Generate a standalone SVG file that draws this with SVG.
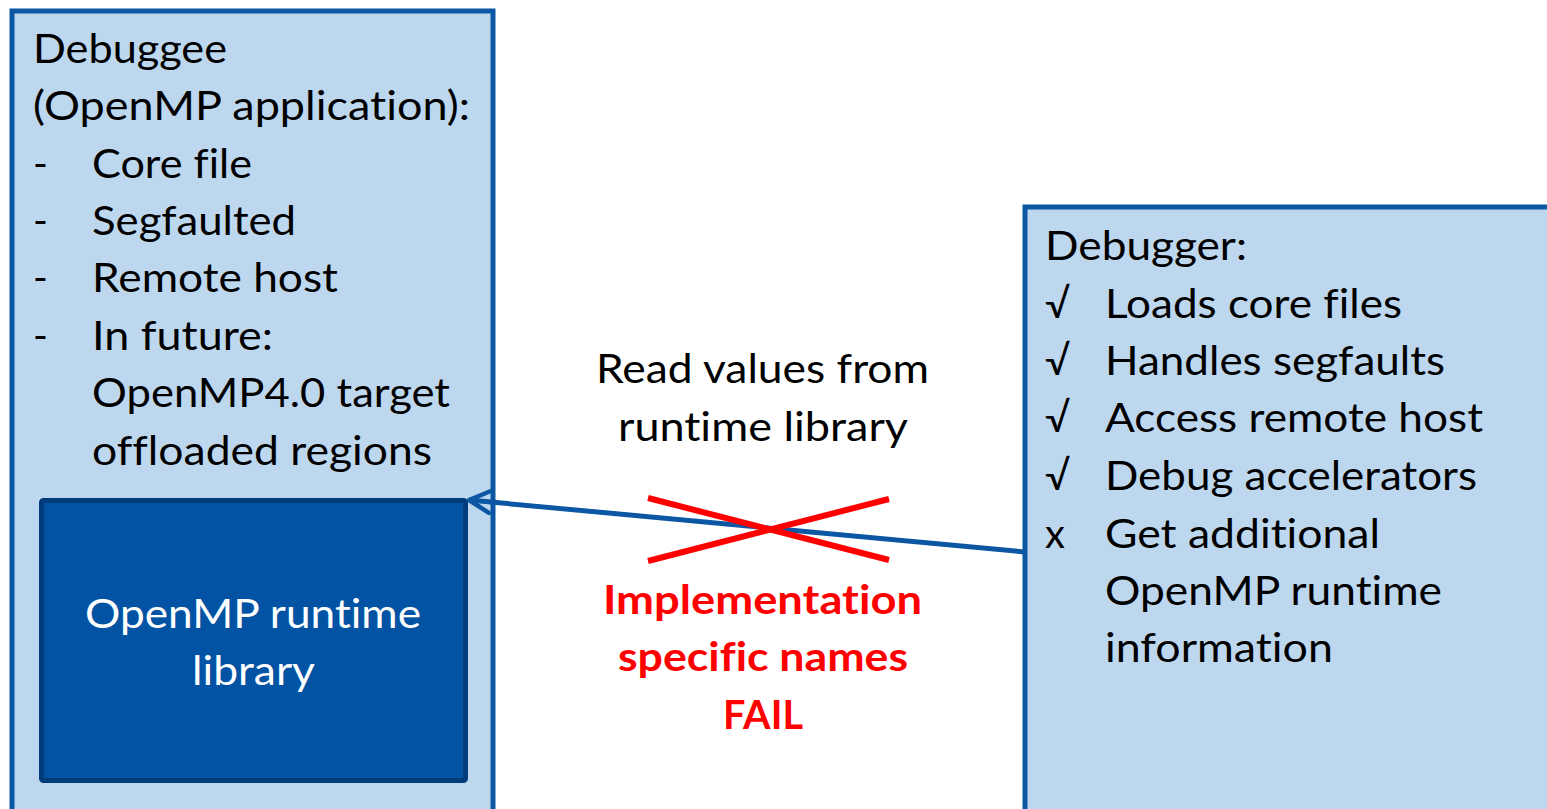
<svg xmlns="http://www.w3.org/2000/svg" width="1547" height="809" viewBox="0 0 1547 809">
  <style>
    .box { fill: #bdd7ee; stroke: #0b57a4; stroke-width: 5; }
    .inner { fill: #0353a4; stroke: #003b7a; stroke-width: 5; }
    text { font-family: Lato, "Open Sans", "DejaVu Sans", sans-serif; font-size: 40px; font-variant-ligatures: none; }
    .dark { fill: #000000; }
    .white { fill: #ffffff; }
    .red { fill: #ff0000; font-weight: bold; }
    .conn { stroke: #0b57a4; stroke-width: 5; fill: none; }
    .cross { stroke: #ff0000; stroke-width: 6; fill: none; }
  </style>
  <defs>
    <marker id="open-arrow" markerUnits="userSpaceOnUse" orient="auto" refX="0" refY="0" viewBox="-24 -14 28 28" markerWidth="28" markerHeight="28" overflow="visible">
      <path d="M-21,-11 L0,0 L-21,11" fill="none" stroke="#0b57a4" stroke-width="4.5" stroke-linecap="round" stroke-linejoin="round"/>
    </marker>
  </defs>
  <rect width="1547" height="809" fill="#ffffff"/>

  <g id="debuggee">
    <rect class="box" x="12" y="11" width="481" height="805"/>
    <text class="dark" x="33" y="63" textLength="194" lengthAdjust="spacingAndGlyphs">Debuggee</text>
    <text class="dark" x="33" y="120" textLength="437" lengthAdjust="spacingAndGlyphs">(OpenMP application):</text>
    <text class="dark" x="33" y="178">-</text>
    <text class="dark" x="92" y="178" textLength="160" lengthAdjust="spacingAndGlyphs">Core file</text>
    <text class="dark" x="33" y="235">-</text>
    <text class="dark" x="92" y="235" textLength="204" lengthAdjust="spacingAndGlyphs">Segfaulted</text>
    <text class="dark" x="33" y="292">-</text>
    <text class="dark" x="92" y="292" textLength="246" lengthAdjust="spacingAndGlyphs">Remote host</text>
    <text class="dark" x="33" y="350">-</text>
    <text class="dark" x="92" y="350" textLength="181" lengthAdjust="spacingAndGlyphs">In future:</text>
    <text class="dark" x="92" y="407" textLength="358" lengthAdjust="spacingAndGlyphs">OpenMP4.0 target</text>
    <text class="dark" x="92" y="465" textLength="340" lengthAdjust="spacingAndGlyphs">offloaded regions</text>
  </g>

  <g id="runtime-library">
    <rect class="inner" x="41.5" y="500.5" width="424" height="280" rx="2"/>
    <text class="white" x="85" y="628" textLength="336" lengthAdjust="spacingAndGlyphs">OpenMP runtime</text>
    <text class="white" x="192" y="685" textLength="123" lengthAdjust="spacingAndGlyphs">library</text>
  </g>

  <g id="debugger">
    <rect class="box" x="1025" y="207" width="540" height="610"/>
    <text class="dark" x="1045" y="260" textLength="202" lengthAdjust="spacingAndGlyphs">Debugger:</text>
    <text class="dark" x="1045" y="318">√</text>
    <text class="dark" x="1105" y="318" textLength="297" lengthAdjust="spacingAndGlyphs">Loads core files</text>
    <text class="dark" x="1045" y="375">√</text>
    <text class="dark" x="1105" y="375" textLength="340" lengthAdjust="spacingAndGlyphs">Handles segfaults</text>
    <text class="dark" x="1045" y="432">√</text>
    <text class="dark" x="1105" y="432" textLength="378" lengthAdjust="spacingAndGlyphs">Access remote host</text>
    <text class="dark" x="1045" y="490">√</text>
    <text class="dark" x="1105" y="490" textLength="372" lengthAdjust="spacingAndGlyphs">Debug accelerators</text>
    <text class="dark" x="1045" y="548">x</text>
    <text class="dark" x="1105" y="548" textLength="275" lengthAdjust="spacingAndGlyphs">Get additional</text>
    <text class="dark" x="1105" y="605" textLength="337" lengthAdjust="spacingAndGlyphs">OpenMP runtime</text>
    <text class="dark" x="1105" y="662" textLength="228" lengthAdjust="spacingAndGlyphs">information</text>
  </g>

  <g id="connectors">
    <line class="conn" x1="1025" y1="552" x2="469" y2="500" marker-end="url(#open-arrow)"/>
    <text class="dark" x="596" y="383" textLength="333" lengthAdjust="spacingAndGlyphs">Read values from</text>
    <text class="dark" x="618" y="441" textLength="290" lengthAdjust="spacingAndGlyphs">runtime library</text>
    <line class="cross" x1="648" y1="498" x2="889" y2="560"/>
    <line class="cross" x1="648" y1="561" x2="889" y2="499"/>
    <text class="red" x="603" y="614" textLength="319" lengthAdjust="spacingAndGlyphs">Implementation</text>
    <text class="red" x="618" y="671" textLength="290" lengthAdjust="spacingAndGlyphs">specific names</text>
    <text class="red" x="723" y="729" textLength="80" lengthAdjust="spacingAndGlyphs">FAIL</text>
  </g>
</svg>
